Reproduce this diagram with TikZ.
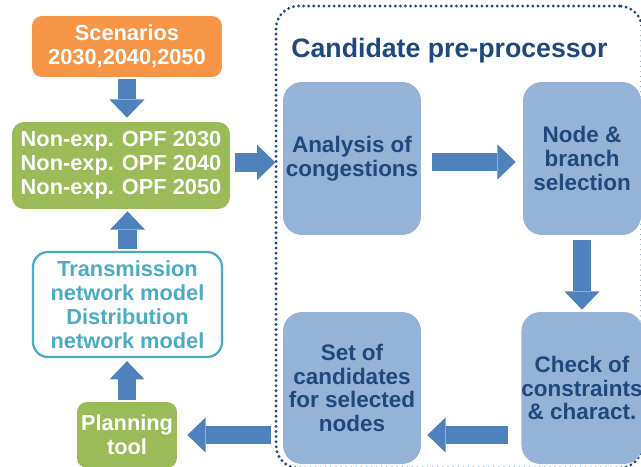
\documentclass[tikz,border=0pt]{standalone}
\usepackage{fontspec}
\setmainfont{Liberation Sans}
\usetikzlibrary{arrows.meta,calc}
\definecolor{orng}{HTML}{F79646}
\definecolor{grn}{HTML}{9BBB59}
\definecolor{cyn}{HTML}{4BACC6}
\definecolor{lblue}{HTML}{95B3D7}
\definecolor{arr}{HTML}{4F81BD}
\definecolor{dblue}{HTML}{1F497D}
\begin{document}
\begin{tikzpicture}[x=0.02cm,y=-0.02cm,
  box/.style={inner sep=0pt, align=center, font=\bfseries\fontsize{12.4}{13.6}\selectfont},
  bluebox/.style={box, fill=lblue, text=dblue, rounded corners=0.38cm, minimum height=3.04cm,
                  font=\bfseries\fontsize{12.8}{13.6}\selectfont},
  barrow/.style={draw=arr, line width=10.6pt, -{Triangle[width=20pt,length=10.4pt,line width=0pt]}}
]
\useasboundingbox (0,0) rectangle (641,466);
\clip (0,0) rectangle (641,466);

% outer dotted frame
\node[draw=dblue, line width=1.8pt, line cap=round, dash pattern=on 0pt off 2.9pt,
      rounded corners=0.45cm, minimum width=7.32cm, minimum height=9.24cm, inner sep=0pt] (pre) at (459,237) {};
\node[anchor=base west, text=dblue, inner sep=0pt, font=\bfseries\fontsize{15.2}{18}\selectfont] (title) at (291,58) {Candidate pre-processor};

% left column
\node[box, fill=orng, text=white, rounded corners=0.2cm, minimum width=3.8cm, minimum height=1.22cm] (scen) at (127,46.5) {Scenarios\\2030,2040,2050};
\node[box, fill=grn, text=white, rounded corners=0.24cm, minimum width=4.36cm, minimum height=1.74cm] (opf) at (121,165.5) {Non-exp. OPF 2030\\Non-exp. OPF 2040\\Non-exp. OPF 2050};
\node[box, fill=white, draw=cyn, line width=1.3pt, text=cyn, rounded corners=0.3cm, minimum width=3.78cm, minimum height=2.1cm] (trans) at (127.5,304.5) {Transmission\\network model\\Distribution\\network model};
\node[box, fill=grn, text=white, rounded corners=0.2cm, minimum width=2.0cm, minimum height=1.32cm] (plan) at (127,435) {Planning\\tool};

% blue boxes
\node[bluebox, minimum width=2.76cm, minimum height=3.06cm] (ana) at (352,158.5) {Analysis of\\congestions};
\node[bluebox, minimum width=2.36cm, minimum height=3.06cm] (sel) at (582,158.5) {Node \&\\branch\\selection};
\node[bluebox, minimum width=2.36cm] (chk) at (582,388) {Check of\\constraints\\\& charact.};
\node[bluebox, minimum width=2.76cm] (set) at (352,388) {Set of\\candidates\\for selected\\nodes};

% block arrows
\draw[barrow, shorten <=0.04cm, shorten >=0.08cm] (scen.south) -- (scen.south |- opf.north);
\draw[barrow, shorten <=0.04cm, shorten >=0.04cm] (trans.north) -- (trans.north |- opf.south);
\draw[barrow, shorten <=0.04cm, shorten >=0.06cm] (plan.north) -- (plan.north |- trans.south);
\draw[barrow, shorten <=0.1cm, shorten >=-0.02cm] ($(opf.east)+(0,-3)$) -- ($(opf.east -| pre.west)+(0,-3)$);
\draw[barrow, shorten <=0.22cm, shorten >=0.14cm] ($(ana.east)+(0,3.5)$) -- ($(sel.west)+(0,3.5)$);
\draw[barrow, shorten <=0.1cm, shorten >=0.04cm] (sel.south) -- (chk.north);
\draw[barrow, shorten <=0.26cm, shorten >=0.12cm] (chk.west |- plan.center) -- (set.east |- plan.center);
\draw[barrow, shorten <=0.06cm, shorten >=0.2cm] (pre.west |- plan.center) -- (plan.east |- plan.center);
\end{tikzpicture}
\end{document}
